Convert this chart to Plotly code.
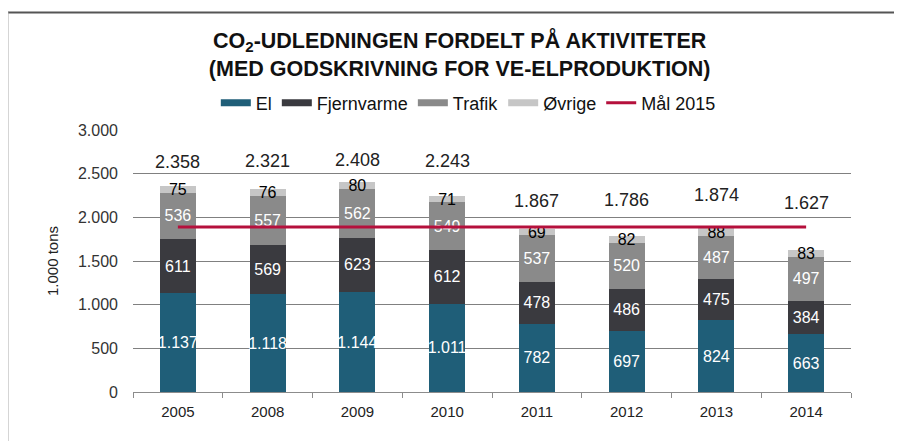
import plotly.graph_objects as go

years = ["2005", "2008", "2009", "2010", "2011", "2012", "2013", "2014"]
el = [1137, 1118, 1144, 1011, 782, 697, 824, 663]
fjernvarme = [611, 569, 623, 612, 478, 486, 475, 384]
trafik = [536, 557, 562, 549, 537, 520, 487, 497]
ovrige = [75, 76, 80, 71, 69, 82, 88, 83]
totals = [2358, 2321, 2408, 2243, 1867, 1786, 1874, 1627]
maal_2015 = [1890] * len(years)

# styling: pixel lift of each total label above its bar (as placed in the original)
total_label_lift = [24, 28, 22, 35, 28, 36, 33, 47]

FONT = "Liberation Sans, Arial, sans-serif"

fig = go.Figure()
series = [
    ("El", el, "#1f5e78", "white"),
    ("Fjernvarme", fjernvarme, "#3a3a3f", "white"),
    ("Trafik", trafik, "#8a8a8a", "white"),
    ("Øvrige", ovrige, "#c6c6c6", "black"),
]
for name, vals, col, tcol in series:
    fig.add_trace(go.Bar(
        x=years, y=vals, name=name, marker=dict(color=col, line=dict(width=0)),
        texttemplate="%{y:,.0f}", textposition="inside", insidetextanchor="middle",
        constraintext="none", textangle=0, showlegend=False,
        textfont=dict(family=FONT, size=16, color=tcol),
    ))

fig.add_trace(go.Scatter(
    x=years, y=maal_2015, name="Mål 2015", mode="lines",
    line=dict(color="#b5103c", width=3), showlegend=False,
))

# legend entries (wide bar-like keys as in the original)
for name, _, col, _ in series:
    fig.add_trace(go.Scatter(x=[None], y=[None], mode="lines", name=name,
                             line=dict(color=col, width=7)))
fig.add_trace(go.Scatter(x=[None], y=[None], mode="lines", name="Mål 2015",
                         line=dict(color="#b5103c", width=3)))

for i, (t, lift) in enumerate(zip(totals, total_label_lift)):
    fig.add_annotation(
        x=i, y=t, text=f"{t:,}".replace(",", "."), showarrow=False,
        yshift=lift, font=dict(family=FONT, size=18, color="#222"),
    )

# frame lines (top and left) in paper coords
fig.add_shape(type="line", xref="paper", yref="paper", x0=-0.1755, x1=1.1, y0=1.448, y1=1.448,
              line=dict(color="#555", width=2))
fig.add_shape(type="line", xref="paper", yref="paper", x0=-0.1755, x1=-0.1755, y0=1.45, y1=-0.2,
              line=dict(color="#aaa", width=3))

fig.update_layout(
    width=902, height=441,
    margin=dict(l=125, r=59, t=122, b=57),
    paper_bgcolor="white", plot_bgcolor="white",
    barmode="stack", bargap=0.6,
    separators=",.",
    font=dict(family=FONT, color="#222"),
    title=dict(
        text="<b>CO<sub>2</sub>-UDLEDNINGEN FORDELT PÅ AKTIVITETER<br>(MED GODSKRIVNING FOR VE-ELPRODUKTION)</b>",
        x=0.455, xref="paper", xanchor="center", y=0.91, yref="container", yanchor="middle",
        font=dict(family=FONT, size=21.5, color="#111"),
    ),
    legend=dict(
        orientation="h", x=0.467, xanchor="center", y=1.103, yanchor="middle",
        font=dict(family=FONT, size=18, color="#111"), bgcolor="rgba(0,0,0,0)",
        itemwidth=30, traceorder="normal",
    ),
    showlegend=True,
)
fig.update_yaxes(
    range=[0, 3000], tickvals=[0, 500, 1000, 1500, 2000, 2500, 3000], tickformat=",.0f",
    showgrid=True, gridcolor="#808080", gridwidth=1, zeroline=False, showline=False,
    ticks="", ticklabelstandoff=14,
    tickfont=dict(family=FONT, size=16, color="#333"),
    title=dict(text="1.000 tons", standoff=15, font=dict(family=FONT, size=15, color="#222")),
)
fig.update_xaxes(
    type="category", categoryorder="array", categoryarray=years, range=[-0.5, 7.5],
    showline=True, linecolor="#8c8c8c", linewidth=1,
    ticks="outside", tickson="boundaries", ticklen=5, tickcolor="#8c8c8c",
    ticklabelstandoff=6,
    tickfont=dict(family=FONT, size=15, color="#222"),
    showgrid=False, tickangle=0,
)

fig.write_html("out.html")
